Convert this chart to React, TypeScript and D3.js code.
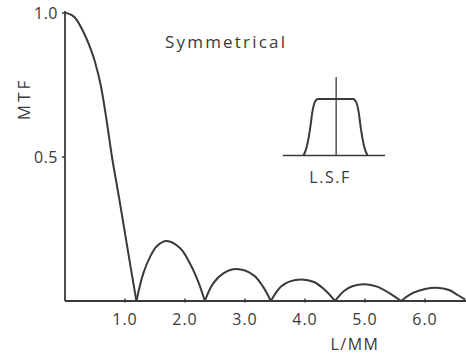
import React from "react";
import * as d3 from "d3";

// Spatial frequency (L/MM) and MTF values
const mtfFreq = [0, 0.07, 0.16, 0.305, 0.4, 0.5, 0.6, 0.695, 0.778, 0.9, 1.0, 1.1, 1.19, 1.305, 1.42, 1.53, 1.69, 1.92, 2.08, 2.22, 2.33, 2.47, 2.64, 2.86, 3.14, 3.3, 3.43, 3.6, 3.75, 3.94, 4.15, 4.35, 4.5, 4.65, 4.8, 5.0, 5.2, 5.4, 5.6, 5.8, 6.0, 6.2, 6.4, 6.55, 6.67];
const mtfValue = [1.0, 0.997, 0.985, 0.935, 0.89, 0.83, 0.745, 0.625, 0.507, 0.36, 0.235, 0.11, 0, 0.096, 0.154, 0.19, 0.208, 0.183, 0.131, 0.067, 0, 0.061, 0.096, 0.111, 0.09, 0.05, 0, 0.05, 0.068, 0.075, 0.066, 0.035, 0, 0.035, 0.052, 0.058, 0.05, 0.028, 0, 0.028, 0.042, 0.046, 0.038, 0.02, 0.005];

const xTicks = [1, 2, 3, 4, 5, 6];
const xTickLabels = ["1.0", "2.0", "3.0", "4.0", "5.0", "6.0"];
const yTicks = [1.0, 0.5];
const yTickLabels = ["1.0", "0.5"];

// Inset line spread function (symmetrical), position vs relative height
const lsfPos = [-1.0, -0.9, -0.8, -0.72, -0.65, -0.55, 0.55, 0.65, 0.72, 0.8, 0.9, 1.0];
const lsfHeight = [0, 0.15, 0.45, 0.78, 0.94, 1.0, 1.0, 0.94, 0.78, 0.45, 0.15, 0];

const W = 466;
const H = 358;
const INK = "#3a3a3a";
const FONT = "'Open Sans', 'DejaVu Sans', sans-serif";

export default function App() {
  const x = d3.scaleLinear().domain([0, 6.683]).range([65, 466]);
  const y = d3.scaleLinear().domain([0, 1]).range([301, 13]);

  // split curve into lobes at zeros so the cusps stay sharp
  const pts = mtfFreq.map((f, i) => [f, mtfValue[i]] as [number, number]);
  const lobes: [number, number][][] = [];
  let cur: [number, number][] = [];
  pts.forEach((p, i) => {
    cur.push(p);
    if (p[1] === 0 && i > 0) {
      lobes.push(cur);
      cur = [p];
    }
  });
  if (cur.length > 1) lobes.push(cur);

  const line = d3
    .line<[number, number]>()
    .x((d) => x(d[0]))
    .y((d) => y(d[1]))
    .curve(d3.curveCatmullRom.alpha(0.5));
  const mainLine = d3
    .line<[number, number]>()
    .x((d) => x(d[0]))
    .y((d) => y(d[1]))
    .curve(d3.curveMonotoneX);

  // inset scales
  const ix = d3.scaleLinear().domain([-1, 1]).range([303.5, 367.5]);
  const iy = d3.scaleLinear().domain([0, 1]).range([155.5, 99]);
  const lsfPts = lsfPos.map((u, i) => [u, lsfHeight[i]] as [number, number]);
  const lsfLine = d3
    .line<[number, number]>()
    .x((d) => ix(d[0]))
    .y((d) => iy(d[1]))
    .curve(d3.curveMonotoneX);

  return (
    <svg
      width={W}
      height={H}
      style={{ position: "absolute", left: 0, top: 0, background: "#fff" }}
      fontFamily={FONT}
    >
      <rect x={0} y={0} width={W} height={H} fill="#fff" />
      {/* axes */}
      <line x1={x(0)} x2={x(0)} y1={11} y2={y(0)} stroke={INK} strokeWidth={1.8} />
      <line x1={x(0)} x2={W} y1={y(0)} y2={y(0)} stroke={INK} strokeWidth={1.8} />

      {/* y ticks */}
      {yTicks.map((t, i) => (
        <g key={"yt" + i}>
          <line x1={x(0) - 3} x2={x(0)} y1={y(t)} y2={y(t)} stroke={INK} strokeWidth={1.5} />
          <text
            x={58}
            y={y(t)}
            textAnchor="end"
            dominantBaseline="central"
            fontSize={16}
            letterSpacing={0.5}
            fill={INK}
          >
            {yTickLabels[i]}
          </text>
        </g>
      ))}

      {/* x ticks */}
      {xTicks.map((t, i) => (
        <g key={"xt" + i}>
          <line x1={x(t)} x2={x(t)} y1={y(0) - 2.5} y2={y(0) + 1.5} stroke={INK} strokeWidth={1.5} />
          <text x={x(t)} y={325} textAnchor="middle" fontSize={16} letterSpacing={1} fill={INK}>
            {xTickLabels[i]}
          </text>
        </g>
      ))}

      {/* axis titles */}
      <text
        transform={`translate(30,99) rotate(-90)`}
        textAnchor="middle"
        fontSize={17}
        letterSpacing={3}
        fill={INK}
      >
        MTF
      </text>
      <text x={355} y={350} textAnchor="middle" fontSize={16} letterSpacing={1.5} fill={INK}>
        L/MM
      </text>

      {/* MTF curve */}
      {lobes.map((seg, i) => (
        <path
          key={"lobe" + i}
          d={(i === 0 ? mainLine(seg) : line(seg)) || ""}
          fill="none"
          stroke={INK}
          strokeWidth={2}
        />
      ))}

      {/* title */}
      <text x={165} y={48} fontSize={17} letterSpacing={2.2} fill={INK}>
        Symmetrical
      </text>

      {/* inset LSF */}
      <line x1={ix(-1.65)} x2={ix(1.55)} y1={iy(0)} y2={iy(0)} stroke={INK} strokeWidth={1.3} />
      <line x1={ix(0.02)} x2={ix(0.02)} y1={iy(0)} y2={iy(1.39)} stroke={INK} strokeWidth={1.3} />
      <path d={lsfLine(lsfPts) || ""} fill="none" stroke={INK} strokeWidth={2} />
      <text x={330} y={183} textAnchor="middle" fontSize={16} letterSpacing={1.5} fill={INK}>
        L.S.F
      </text>
    </svg>
  );
}
